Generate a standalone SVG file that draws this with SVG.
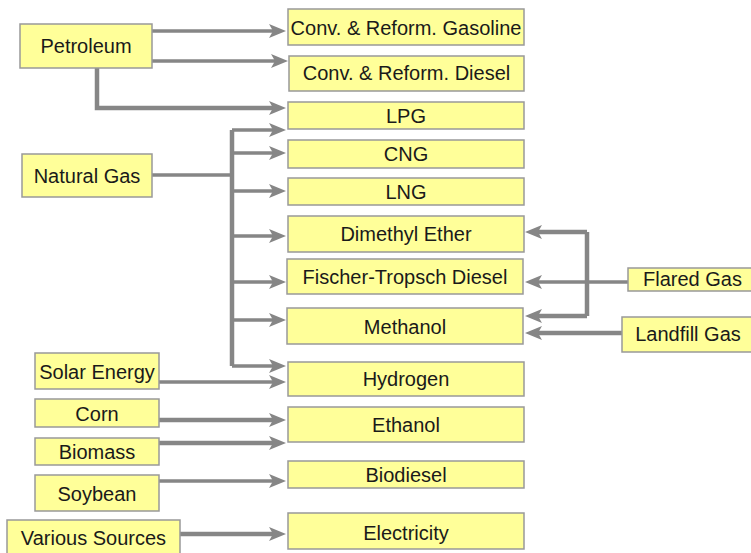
<svg xmlns="http://www.w3.org/2000/svg" width="751" height="553" viewBox="0 0 751 553">
<defs>
<style>
.box{fill:#FFFF99;stroke:#999999;stroke-width:1.5}
.t{font-family:"Liberation Sans",Arial,sans-serif;font-size:20px;fill:#1a1a1a;text-anchor:middle}
.c{fill:none;stroke:#868686;stroke-width:3.5;stroke-linejoin:miter}
.k{stroke-width:4.5}
.a{marker-end:url(#ah)}
</style>
<marker id="ah" viewBox="-8 -8 19 16" refX="0" refY="0" markerWidth="19" markerHeight="16" markerUnits="userSpaceOnUse" orient="auto">
<path d="M10,0 L-7,-7 L-3,0 L-7,7 Z" fill="#868686"/>
</marker>
</defs>
<rect width="751" height="553" fill="#ffffff"/>
<g id="connectors">
<path class="c a" d="M152,31 H276"/>
<path class="c a" d="M152,61 H278"/>
<path class="c k a" d="M97,68 V108 H276"/>
<path class="c" d="M152,175 H232"/>
<path class="c k" d="M232,130 V366"/>
<path class="c a" d="M232,130 H276"/>
<path class="c a" d="M232,153 H276"/>
<path class="c a" d="M232,191 H276"/>
<path class="c a" d="M232,236 H276"/>
<path class="c a" d="M232,282 H276"/>
<path class="c a" d="M232,320 H276"/>
<path class="c a" d="M232,366 H276"/>
<path class="c a" d="M159,382 H276"/>
<path class="c k a" d="M159,420 H276"/>
<path class="c k a" d="M159,443 H276"/>
<path class="c a" d="M159,481 H276"/>
<path class="c k a" d="M180,534 H276"/>
<path class="c a" d="M628,282 H535"/>
<path class="c k a" d="M587,232 H535"/>
<path class="c k" d="M587,232 V316"/>
<path class="c k a" d="M587,316 H535"/>
<path class="c k a" d="M622,333 H535"/>
</g>
<g id="petroleum"><rect class="box" x="20" y="24" width="132" height="44"/><text class="t" x="86" y="53">Petroleum</text></g>
<g id="natural-gas"><rect class="box" x="22" y="154" width="130" height="43"/><text class="t" x="87" y="183">Natural Gas</text></g>
<g id="solar-energy"><rect class="box" x="35" y="353" width="124" height="36"/><text class="t" x="97" y="378.5">Solar Energy</text></g>
<g id="corn"><rect class="box" x="35" y="399" width="124" height="28"/><text class="t" x="97" y="421">Corn</text></g>
<g id="biomass"><rect class="box" x="35" y="438" width="124" height="27"/><text class="t" x="97" y="459">Biomass</text></g>
<g id="soybean"><rect class="box" x="35" y="475" width="124" height="36"/><text class="t" x="97" y="501">Soybean</text></g>
<g id="various-sources"><rect class="box" x="7" y="520" width="173" height="40"/><text class="t" x="93.5" y="545">Various Sources</text></g>
<g id="conv-gasoline"><rect class="box" x="288" y="9" width="236" height="36"/><text class="t" x="406" y="35">Conv. &amp; Reform. Gasoline</text></g>
<g id="conv-diesel"><rect class="box" x="289" y="56" width="235" height="35"/><text class="t" x="406.5" y="80">Conv. &amp; Reform. Diesel</text></g>
<g id="lpg"><rect class="box" x="288" y="102" width="236" height="27"/><text class="t" x="406" y="122.5">LPG</text></g>
<g id="cng"><rect class="box" x="288" y="140" width="236" height="28"/><text class="t" x="406" y="161">CNG</text></g>
<g id="lng"><rect class="box" x="288" y="178" width="236" height="27"/><text class="t" x="406" y="199">LNG</text></g>
<g id="dimethyl-ether"><rect class="box" x="288" y="216" width="236" height="36"/><text class="t" x="406" y="241">Dimethyl Ether</text></g>
<g id="fischer-tropsch"><rect class="box" x="287" y="259" width="236" height="35"/><text class="t" x="405" y="283.5">Fischer-Tropsch Diesel</text></g>
<g id="methanol"><rect class="box" x="287" y="308" width="236" height="36"/><text class="t" x="405" y="333.5">Methanol</text></g>
<g id="hydrogen"><rect class="box" x="288" y="362" width="236" height="34"/><text class="t" x="406" y="386">Hydrogen</text></g>
<g id="ethanol"><rect class="box" x="288" y="407" width="236" height="35"/><text class="t" x="406" y="432">Ethanol</text></g>
<g id="biodiesel"><rect class="box" x="288" y="461" width="236" height="27"/><text class="t" x="406" y="482">Biodiesel</text></g>
<g id="electricity"><rect class="box" x="288" y="513" width="236" height="36"/><text class="t" x="406" y="539.5">Electricity</text></g>
<g id="flared-gas"><rect class="box" x="628" y="268" width="140" height="23"/><text class="t" x="692.5" y="286">Flared Gas</text></g>
<g id="landfill-gas"><rect class="box" x="622" y="317" width="140" height="35"/><text class="t" x="688" y="341">Landfill Gas</text></g>
</svg>
